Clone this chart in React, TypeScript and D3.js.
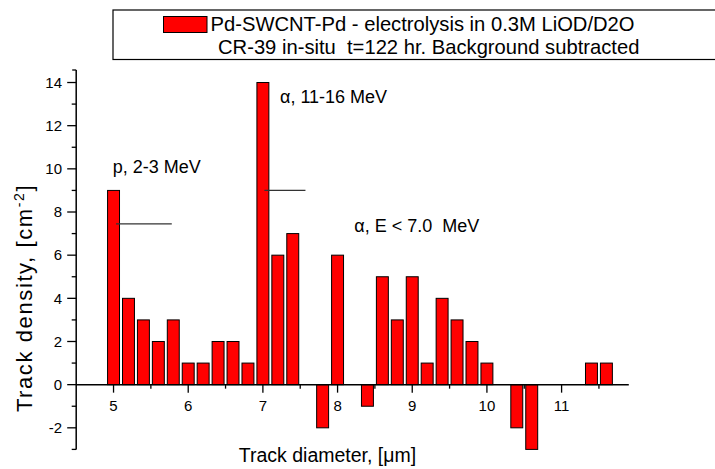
import React from "react";
import * as d3 from "d3";

const diameters = [5.0, 5.2, 5.4, 5.6, 5.8, 6.0, 6.2, 6.4, 6.6, 6.8, 7.0, 7.2, 7.4, 7.6, 7.8, 8.0, 8.2, 8.4, 8.6, 8.8, 9.0, 9.2, 9.4, 9.6, 9.8, 10.0, 10.2, 10.4, 10.6, 10.8, 11.0, 11.2, 11.4, 11.6];
const densities = [9, 4, 3, 2, 3, 1, 1, 2, 2, 1, 14, 6, 7, 0, -2, 6, 0, -1, 5, 3, 5, 1, 4, 3, 2, 1, 0, -2, -3, 0, 0, 0, 1, 1];
const xMajorTicks = [5, 6, 7, 8, 9, 10, 11];
const xMinorTicks = [5.5, 6.5, 7.5, 8.5, 9.5, 10.5, 11.5];
const yMajorTicks = [-2, 0, 2, 4, 6, 8, 10, 12, 14];
const yMinorTicks = [-3, -1, 1, 3, 5, 7, 9, 11, 13];
const legendLines = ["Pd-SWCNT-Pd - electrolysis in 0.3M LiOD/D2O", "CR-39 in-situ  t=122 hr. Background subtracted"];
const annotations = ["p, 2-3 MeV", "α, 11-16 MeV", "α, E < 7.0  MeV"];
// marker lines: [x1, x2, y]
const markerLines = [[5.033, 5.78, 7.45], [7.02, 7.57, 9.0]];

const FONT = "Arial, 'Liberation Sans', sans-serif";

export default function App() {
  const x = d3.scaleLinear().domain([4.5, 11.9]).range([76.2, 628.8]);
  const y = d3.scaleLinear().domain([-3, 14.58]).range([449.4, 70]);
  const barW = x(0.16) - x(0);
  const data = diameters.map((d, i) => ({ d, v: densities[i] })).filter((e) => e.v !== 0);
  const x0 = x.range()[0];
  const y0 = y(0);

  return (
    <svg width={715} height={469} style={{ position: "absolute", left: 0, top: 0, background: "#fff" }} fontFamily={FONT}>
      <rect x={0} y={0} width={715} height={469} fill="#fff" />
      {/* legend */}
      <rect x={113} y={10} width={620} height={49.5} fill="#fff" stroke="#000" strokeWidth={1.2} />
      <rect x={163.5} y={16.5} width={43.5} height={16} fill="#ff0000" stroke="#000" strokeWidth={1} />
      <text x={210.5} y={30.5} fontSize={20.2} style={{ whiteSpace: "pre" }}>{legendLines[0]}</text>
      <text x={218} y={54} fontSize={20.2} style={{ whiteSpace: "pre" }}>{legendLines[1]}</text>

      {/* bars */}
      {data.map((e, i) => (
        <rect
          key={i}
          x={x(e.d) - barW / 2}
          y={Math.min(y(e.v), y0)}
          width={barW}
          height={Math.abs(y(e.v) - y0)}
          fill="#ff0000"
          stroke="#000"
          strokeWidth={1}
        />
      ))}

      {/* marker lines */}
      {markerLines.map((m, i) => (
        <line key={i} x1={x(m[0])} x2={x(m[1])} y1={y(m[2])} y2={y(m[2])} stroke="#333" strokeWidth={1.3} />
      ))}

      {/* annotations */}
      <text x={112.7} y={173.3} fontSize={18} style={{ whiteSpace: "pre" }}>{annotations[0]}</text>
      <text x={280} y={103.3} fontSize={18} style={{ whiteSpace: "pre" }}>{annotations[1]}</text>
      <text x={354.3} y={232.3} fontSize={18} style={{ whiteSpace: "pre" }}>{annotations[2]}</text>

      {/* x axis */}
      <line x1={x0} x2={x.range()[1]} y1={y0} y2={y0} stroke="#000" strokeWidth={1.5} />
      {xMajorTicks.map((t) => (
        <g key={"xm" + t}>
          <line x1={x(t)} x2={x(t)} y1={y0} y2={y0 + 8} stroke="#000" strokeWidth={1.3} />
          <text x={x(t)} y={410.5} fontSize={15} textAnchor="middle">{t}</text>
        </g>
      ))}
      {xMinorTicks.map((t) => (
        <line key={"xn" + t} x1={x(t)} x2={x(t)} y1={y0} y2={y0 + 4} stroke="#000" strokeWidth={1.3} />
      ))}

      {/* y axis */}
      <line x1={x0} x2={x0} y1={y.range()[1]} y2={y.range()[0]} stroke="#000" strokeWidth={1.5} />
      <line x1={x0 - 4} x2={x0} y1={y.range()[1]} y2={y.range()[1]} stroke="#000" strokeWidth={1.3} />
      {yMajorTicks.map((t) => (
        <g key={"ym" + t}>
          <line x1={x0 - 9} x2={x0} y1={y(t)} y2={y(t)} stroke="#000" strokeWidth={1.3} />
          <text x={62} y={y(t)} dy="0.35em" fontSize={15} textAnchor="end">{t}</text>
        </g>
      ))}
      {yMinorTicks.map((t) => (
        <line key={"yn" + t} x1={x0 - 4.5} x2={x0} y1={y(t)} y2={y(t)} stroke="#000" strokeWidth={1.3} />
      ))}

      {/* axis titles */}
      <text x={327.5} y={462} fontSize={19.5} textAnchor="middle">Track diameter, [μm]</text>
      <text transform="translate(31.5,298) rotate(-90)" fontSize={22} letterSpacing={1.6} textAnchor="middle">
        Track density, [cm<tspan dy={-8} fontSize={14}>-2</tspan><tspan dy={8}>]</tspan>
      </text>
    </svg>
  );
}
